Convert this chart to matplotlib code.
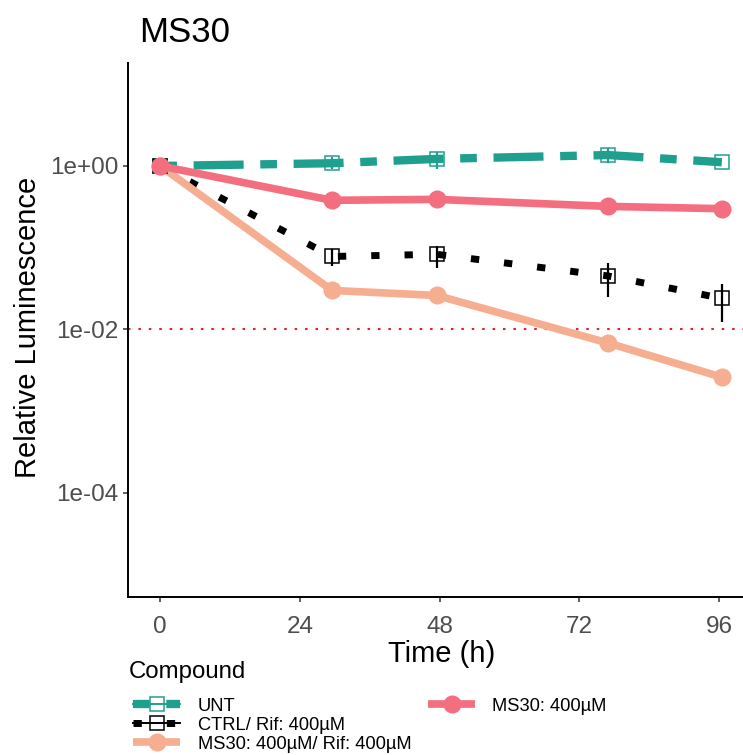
import matplotlib
matplotlib.use("Agg")
import matplotlib.pyplot as plt
from matplotlib.lines import Line2D
import numpy as np

plt.rcParams["font.family"] = ["Liberation Sans", "DejaVu Sans"]

# ---- data -------------------------------------------------------------
time_h = [0, 29.5, 47.5, 77, 96.5]

unt = [1.0, 1.08, 1.22, 1.36, 1.11]
unt_lo = [1.0, 0.91, 0.91, 1.09, 1.11]
unt_hi = [1.0, 1.28, 1.50, 1.66, 1.11]

ctrl_rif = [1.0, 0.078, 0.083, 0.045, 0.024]
ctrl_lo = [1.0, 0.060, 0.057, 0.025, 0.0124]
ctrl_hi = [1.0, 0.095, 0.105, 0.065, 0.036]

ms30_rif = [1.0, 0.030, 0.026, 0.0068, 0.0026]
ms30 = [1.0, 0.38, 0.39, 0.32, 0.30]

threshold = 0.01

series_labels = ["UNT", "CTRL/ Rif: 400µM", "MS30: 400µM/ Rif: 400µM", "MS30: 400µM"]
y_ticks = [1, 1e-2, 1e-4]
y_ticklabels = ["1e+00", "1e-02", "1e-04"]
x_ticks = [0, 24, 48, 72, 96]

# ---- styles -----------------------------------------------------------
TEAL = "#1FA08F"
BLACK = "#000000"
SALMON = "#F6AE90"
PINK = "#F36E7E"

style_unt = dict(color=TEAL, lw=6.0, dashes=(2, 2, 6, 2), dash_capstyle="butt")
style_ctrl = dict(color=BLACK, lw=5.0, dashes=(1.2, 3.6), dash_capstyle="butt")
style_ms30_rif = dict(color=SALMON, lw=5.5, solid_capstyle="butt")
style_ms30 = dict(color=PINK, lw=5.5, solid_capstyle="butt")

sq_marker = dict(marker="s", markersize=10, markerfacecolor="none", markeredgewidth=1.1)
circ_marker = dict(marker="o", markersize=13, markeredgewidth=0)

W, H = 743, 755
fig = plt.figure(figsize=(W / 100, H / 100), dpi=100)

# plotting panel (pixel box: left 128, top 63, right 755, bottom 597)
ax = fig.add_axes([128 / W, (H - 597) / H, 627 / W, (597 - 63) / H])
ax.set_yscale("log")
ax.set_xlim(-5.55, 102.2)
ax.set_ylim(10 ** -5.275, 10 ** 1.26)

# lines
ax.plot(time_h, unt, **style_unt, zorder=2)
ax.plot(time_h, ctrl_rif, **style_ctrl, zorder=2)
ax.plot(time_h, ms30_rif, **style_ms30_rif, zorder=2)
ax.plot(time_h, ms30, **style_ms30, zorder=2)

# points
ax.plot(time_h, unt, ls="none", color=TEAL, markeredgecolor=TEAL, **sq_marker, zorder=3)
ax.plot(time_h, ctrl_rif, ls="none", color=BLACK, markeredgecolor=BLACK, **sq_marker, zorder=3)
ax.plot(time_h, ms30_rif, ls="none", color=SALMON, **circ_marker, zorder=3)
ax.plot(time_h, ms30, ls="none", color=PINK, **circ_marker, zorder=3)

# error bars
ax.vlines(time_h, unt_lo, unt_hi, colors=TEAL, lw=1.6, zorder=4)
ax.vlines(time_h, ctrl_lo, ctrl_hi, colors=BLACK, lw=1.6, zorder=4)

# detection threshold
ax.axhline(threshold, color="#E0202A", lw=1.5, dashes=(1.2, 3.8), zorder=1)

# axes styling
for side in ("top", "right"):
    ax.spines[side].set_visible(False)
for side in ("left", "bottom"):
    ax.spines[side].set_linewidth(1.4)
    ax.spines[side].set_color("black")

ax.set_yticks(y_ticks)
ax.set_yticklabels(y_ticklabels)
ax.yaxis.set_minor_locator(matplotlib.ticker.NullLocator())
ax.set_xticks(x_ticks)
ax.tick_params(axis="both", length=3.6, width=1.1, color="#333333",
               labelcolor="#4D4D4D", labelsize=17.5)
ax.tick_params(axis="y", pad=3.6)
ax.tick_params(axis="x", pad=10)


def fx(px):
    return px / W


def fy(py):
    return 1 - py / H


# titles
fig.text(fx(139), fy(42), "MS30", fontsize=25, ha="left", va="baseline")
fig.text(fx(442), fy(662), "Time (h)", fontsize=21, ha="center", va="baseline")
fig.text(fx(36), fy(327), "Relative Luminescence", fontsize=21, rotation=90,
         rotation_mode="anchor", ha="center", va="baseline")

# legend
fig.text(fx(129), fy(678), "Compound", fontsize=17.3, ha="left", va="baseline")

legend_rows = [
    (series_labels[0], style_unt, dict(color=TEAL, markeredgecolor=TEAL, **sq_marker), TEAL, 133, 180, 703.5, 198, 711),
    (series_labels[1], style_ctrl, dict(color=BLACK, markeredgecolor=BLACK, **sq_marker), BLACK, 133, 180, 722.5, 198, 730),
    (series_labels[2], style_ms30_rif, dict(color=SALMON, **circ_marker), None, 133, 180, 742, 198, 749),
    (series_labels[3], style_ms30, dict(color=PINK, **circ_marker), None, 428, 475, 703.5, 492, 711),
]
for label, lstyle, mstyle, err_color, x0, x1, yk, xt, yt in legend_rows:
    xs = [fx(x0), fx(x1)]
    ys = [fy(yk), fy(yk)]
    fig.add_artist(Line2D(xs, ys, transform=fig.transFigure, **lstyle))
    if err_color is not None:
        fig.add_artist(Line2D(xs, ys, transform=fig.transFigure, color=err_color, lw=1.4))
    fig.add_artist(Line2D([fx((x0 + x1) / 2)], [fy(yk)], transform=fig.transFigure,
                          ls="none", **mstyle))
    fig.text(fx(xt), fy(yt), label, fontsize=13.2, ha="left", va="baseline")

fig.savefig("out.png", dpi=100)
